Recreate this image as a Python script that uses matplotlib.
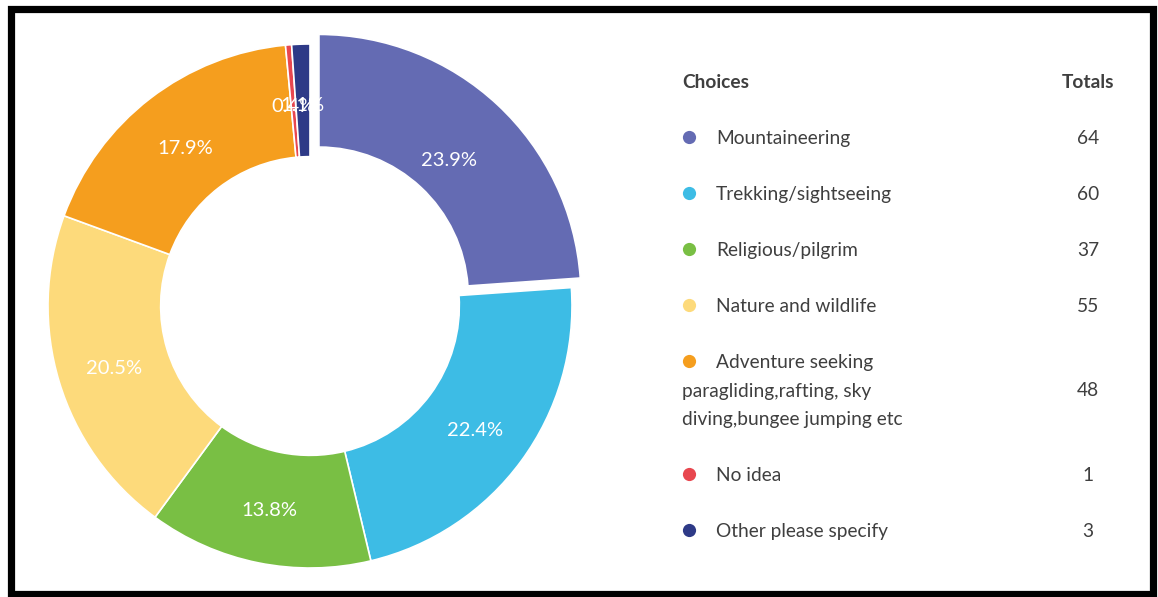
import matplotlib
matplotlib.use("Agg")
import numpy as np
import matplotlib.pyplot as plt
from matplotlib.patches import Rectangle

categories = ["Mountaineering", "Trekking/sightseeing", "Religious/pilgrim",
              "Nature and wildlife",
              "Adventure seeking\nparagliding,rafting, sky\ndiving,bungee jumping etc",
              "No idea", "Other please specify"]
totals = [64, 60, 37, 55, 48, 1, 3]
colors = ["#646bb3", "#3dbce5", "#79bf44", "#fdda7b", "#f59e1e", "#e8474f", "#2e3a87"]
explode = [0.05, 0, 0, 0, 0, 0, 0]

W, H = 1158, 597
fig = plt.figure(figsize=(W / 100, H / 100), dpi=100)
fig.patch.set_facecolor("white")

# donut axes (pixel geometry)
cx, cy, R = 310, 306, 262
lim = 1.1
size = R * lim * 2
ax = fig.add_axes([(cx - R * lim) / W, (H - cy - R * lim) / H, size / W, size / H])
wedges, texts, autotexts = ax.pie(
    totals, colors=colors, explode=explode, startangle=90, counterclock=False,
    radius=1.0, wedgeprops=dict(width=0.43, edgecolor="white", linewidth=1.2),
    autopct="%.1f%%", pctdistance=0.78,
    textprops=dict(color="white", fontsize=14.5, family=["Lato", "DejaVu Sans"]))
# percentage labels: exploded slice label stays at the un-exploded position,
# and all labels sit a touch lower (as in the reference rendering)
for w, t, e in zip(wedges, autotexts, explode):
    x, y = t.get_position()
    if e:
        ang = np.deg2rad((w.theta1 + w.theta2) / 2)
        x, y = x - e * np.cos(ang), y - e * np.sin(ang)
    t.set_position((x, y - 0.015))
ax.set_xlim(-lim, lim)
ax.set_ylim(-lim, lim)
ax.set_aspect("equal")
ax.axis("off")

# legend table
tc = "#3f3f3f"
fam = ["Lato", "DejaVu Sans"]
fs = 13.8
lax = fig.add_axes([0, 0, 1, 1], facecolor="none")
lax.set_xlim(0, W)
lax.set_ylim(H, 0)
lax.axis("off")

lax.text(682, 82, "Choices", fontsize=fs, fontweight="bold", color=tc,
         family=fam, va="center", ha="left")
lax.text(1114, 82, "Totals", fontsize=fs, fontweight="bold", color=tc,
         family=fam, va="center", ha="right")

row_y = [137, 193, 249, 305, 361, 474, 530]
tot_y = [137, 193, 249, 305, 389, 474, 530]
for i, (cat, tot, col) in enumerate(zip(categories, totals, colors)):
    lax.plot([689], [row_y[i]], "o", color=col, markersize=9.5, markeredgewidth=0)
    lines = cat.split("\n")
    lax.text(716, row_y[i] + 1.5, lines[0], fontsize=fs, color=tc, family=fam,
             va="center", ha="left")
    for j, ln in enumerate(lines[1:]):
        lax.text(682, row_y[i] + 1.5 + 28.5 * (j + 1), ln, fontsize=fs, color=tc,
                 family=fam, va="center", ha="left")
    lax.text(1088, tot_y[i] + 1.5, str(tot), fontsize=fs, color=tc, family=fam,
             va="center", ha="center")

# black frame
fig.patches.append(Rectangle((10.5 / W, 1 - 593.5 / H), (1152.5 - 10.5) / W,
                             (593.5 - 9) / H, transform=fig.transFigure,
                             fill=False, edgecolor="black", linewidth=5.2))

fig.savefig("out.png", dpi=100, facecolor="white")
